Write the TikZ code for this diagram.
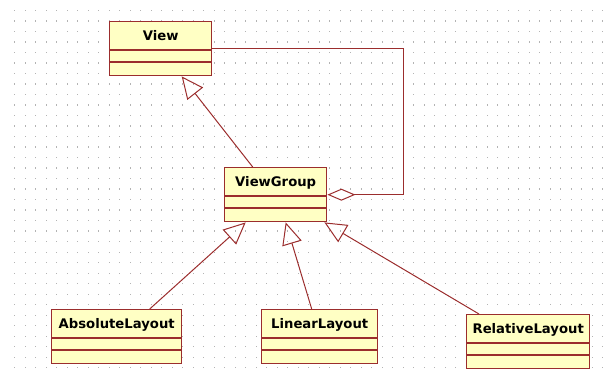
\documentclass[tikz,border=0pt]{standalone}
\usepackage{fontspec}
\usetikzlibrary{arrows.meta}
\newfontfamily\umlfont{DejaVu Sans}
\definecolor{umlred}{RGB}{155,45,45}
\definecolor{umlfill}{RGB}{255,255,196}
\definecolor{dotgray}{RGB}{180,180,180}
\begin{document}
\begin{tikzpicture}[x=1pt,y=-1pt]
\newcommand{\cmp}{29pt}
\tikzstyle{umlclass}= [draw=umlred,fill=umlfill,line width=1.4pt,anchor=north west,
  inner sep=0pt,text height=19pt,text depth=35pt,font=\umlfont\bfseries\fontsize{13.2}{15}\selectfont];
\tikzstyle{gen}= [umlred,line width=1pt,-{Triangle[open,length=22pt,width=20pt]}];
\tikzstyle{aggr}= [umlred,line width=1pt,{Diamond[open,length=28pt,width=12pt]}-];
  \useasboundingbox (0,0) rectangle (603,377);
  % grid
  \foreach \i in {0,...,56}{
    \foreach \j in {0,...,35}{
      \fill[dotgray] (14+10.5*\i,10+10.5*\j) rectangle ++(1.4,1.4);
    }
  }
  % classes
  \node[umlclass,minimum width=102pt] (view) at (109,21) {View};
  \node[umlclass,minimum width=102pt] (viewgroup) at (224,167) {ViewGroup};
  \node[umlclass,minimum width=130pt] (absolute) at (51,309) {AbsoluteLayout};
  \node[umlclass,minimum width=116pt] (linear) at (261,309) {LinearLayout};
  \node[umlclass,minimum width=123pt] (relative) at (466,314) {RelativeLayout};
  \foreach \c in {view,viewgroup,absolute,linear,relative}{
    \draw[umlred,line width=1.4pt] ([yshift=-\cmp]\c.north west) -- ([yshift=-\cmp]\c.north east);
    \draw[umlred,line width=1.4pt] ([yshift=-41pt]\c.north west) -- ([yshift=-41pt]\c.north east);
  }
  % links
  \draw[gen] ([xshift=-23pt]viewgroup.north) -- ([xshift=21pt]view.south);
  \draw[gen] ([xshift=33pt]absolute.north) -- ([xshift=-30pt]viewgroup.south);
  \draw[gen] ([xshift=-8pt]linear.north) -- ([xshift=10pt]viewgroup.south);
  \draw[gen] ([xshift=13pt]relative.north west) -- ([xshift=-3pt]viewgroup.south east);
  \draw[aggr] (viewgroup.east) -- ++(76,0) |- (view.east);
\end{tikzpicture}
\end{document}
